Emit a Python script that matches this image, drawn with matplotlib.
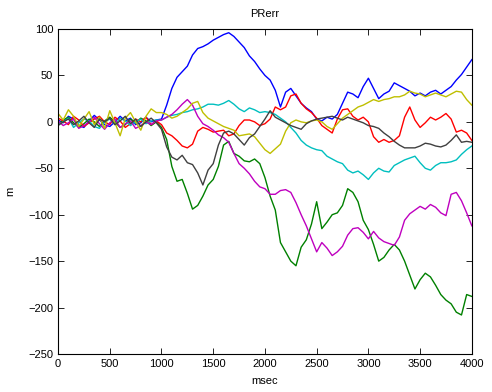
import numpy as np
import matplotlib
matplotlib.use("Agg")
import matplotlib.pyplot as plt

# sample times (msec), one value every 50 ms
t = np.arange(0, 4001, 50)

# position error per track (m)
err_b = [2, -1, 6, 3, -4, -6, 1, 7, 2, -3,
         -5, 0, 6, 1, 4, -3, -1, 5, 0, 2,
         3, 18, 36, 48, 54, 60, 72, 79, 81, 84,
         88, 91, 94, 96, 92, 86, 80, 71, 65, 57,
         50, 45, 34, 16, 32, 36, 28, 20, 15, 11,
         3, 1, 5, 3, 8, 20, 32, 30, 26, 38,
         47, 36, 25, 30, 33, 42, 39, 36, 33, 28,
         31, 28, 32, 34, 30, 34, 38, 45, 51, 59,
         67]
err_g = [-3, 2, 5, -1, -6, -2, 3, 0, -5, 1,
         5, 0, -6, -3, 3, -1, 4, 1, -4, 0,
         -6, -19, -48, -64, -62, -77, -94, -90, -80, -68,
         -62, -48, -25, -21, -34, -37, -42, -43, -40, -45,
         -60, -80, -95, -130, -140, -150, -155, -135, -127, -110,
         -86, -115, -108, -100, -98, -90, -72, -76, -86, -106,
         -116, -132, -150, -146, -138, -132, -138, -150, -165, -180,
         -170, -163, -167, -176, -186, -192, -196, -205, -208, -186,
         -188]
err_r = [4, 1, -3, 6, 2, -5, -1, 3, 6, 0,
         -3, 5, 1, -6, -2, 3, 0, 5, -3, 1,
         -3, -12, -15, -20, -26, -28, -24, -10, -6, -8,
         -11, -10, -9, -15, -13, -4, 2, 2, 0, -4,
         -2, 3, 16, 13, 16, 28, 30, 20, 14, 10,
         4, -4, -8, -12, 3, 13, 14, 6, 2, 5,
         0, -16, -22, -19, -22, -20, -15, 5, 16, 2,
         -6, -1, 5, 2, 5, 9, 3, -11, -9, -12,
         -20]
err_c = [-3, 0, 4, -6, -1, 3, 1, -5, -7, 0,
         3, -3, 4, 1, -4, 0, 3, -2, 1, 2,
         2, 5, 7, 8, 10, 11, 13, 14, 16, 19,
         19, 18, 20, 23, 19, 14, 11, 15, 13, 10,
         11, 10, 8, 4, 0, -6, -12, -20, -25, -28,
         -30, -31, -37, -40, -43, -45, -52, -55, -53, -57,
         -62, -55, -50, -53, -54, -47, -44, -41, -39, -37,
         -44, -50, -52, -47, -44, -44, -43, -41, -35, -30,
         -26]
err_m = [1, -4, -1, 3, -7, -4, 0, 5, -2, -8,
         -1, 3, -6, -2, 1, -7, -4, 0, -3, 1,
         2, 5, 8, 13, 19, 24, 18, 6, -2, -5,
         -9, -14, -17, -22, -34, -45, -50, -56, -64, -70,
         -72, -78, -78, -74, -73, -76, -87, -100, -112, -126,
         -140, -130, -136, -144, -140, -134, -122, -115, -114, -119,
         -126, -118, -125, -129, -131, -133, -124, -106, -99, -95,
         -91, -94, -89, -92, -98, -101, -78, -76, -85, -98,
         -112]
err_y = [9, 2, 13, 6, -5, 3, 11, -3, 5, -7,
         12, -1, -15, 4, 10, 0, -9, 6, 14, 10,
         10, 8, 4, 6, 10, 14, 20, 22, 10, 4,
         1, -2, -5, -7, -9, -15, -14, -13, -16, -23,
         -30, -34, -29, -24, -10, -1, 2, 0, -1, 1,
         2, 0, -5, -8, -2, 4, 8, 12, 16, 18,
         21, 24, 22, 24, 25, 27, 27, 29, 33, 31,
         30, 27, 29, 31, 29, 27, 30, 33, 32, 24,
         18]
err_k = [-4, 0, 3, -3, 1, 6, -1, -6, 3, 0,
         4, -3, 1, 6, -2, 3, -5, 0, 4, -1,
         -8, -27, -38, -41, -36, -44, -46, -55, -68, -52,
         -45, -25, -12, -10, -13, -19, -25, -17, -13, -5,
         3, 12, 5, 2, -1, -4, -6, -8, -2, 1,
         3, 4, 5, 6, 4, 2, 5, 3, 1, -1,
         -4, -5, -7, -12, -16, -21, -25, -28, -28, -28,
         -26, -23, -24, -26, -27, -25, -20, -14, -22, -21,
         -22]

series = [err_b, err_g, err_r, err_c, err_m, err_y, err_k]
colors = ["#0000ff", "#008000", "#ff0000", "#00bfbf", "#bf00bf", "#bfbf00", "#404040"]

plt.rcParams["font.family"] = ["Liberation Sans", "DejaVu Sans"]
plt.rcParams["font.size"] = 8

fig = plt.figure(figsize=(4.92, 3.92), dpi=100)
ax = fig.add_axes([0.118, 0.097, 0.841, 0.829])

for s, c in zip(series, colors):
    ax.plot(t, s, color=c, linewidth=1.0)

ax.set_xlim(0, 4000)
ax.set_ylim(-250, 100)
ax.set_xticks(np.arange(0, 4001, 500))
ax.set_yticks(np.arange(-250, 101, 50))
ax.tick_params(direction="in", length=4, top=True, right=True, width=0.6)
for sp in ax.spines.values():
    sp.set_linewidth(0.8)

ax.set_title("PRerr", fontsize=8, pad=9)
ax.set_xlabel("msec", labelpad=5)
ax.set_ylabel("m", labelpad=9)

fig.savefig("out.png", dpi=100)
